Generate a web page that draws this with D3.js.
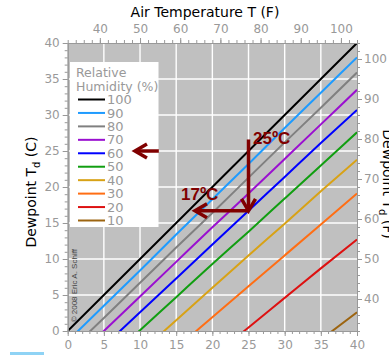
<!DOCTYPE html>
<html>
<head>
<meta charset="utf-8">
<script src="https://cdn.jsdelivr.net/npm/d3@7"></script>
<style>
  body { margin: 0; background: #fff; }
  svg { display: block; }
  .tick text { font-family: "DejaVu Sans", sans-serif; font-size: 12px; fill: #999; }
  .tick line, .domain { stroke: #999; }
</style>
</head>
<body>
<script>
// dewpoint vs air temperature, one curve per relative humidity

var airTempC = [0, 5, 10, 15, 20, 25, 30, 35, 40];
var humidity = [100, 90, 80, 70, 60, 50, 40, 30, 20, 10];
var humidityColors = ["#000000", "#1e9bff", "#808080", "#9a10d0", "#0000ff",
                      "#119e11", "#d8a216", "#ff6e14", "#dd1111", "#9c6410"];

// dewpoint (C) at each air temperature above
var td100 = [0, 5, 10, 15, 20, 25, 30, 35, 40];
var td90 = [-1.4, 3.5, 8.4, 13.4, 18.3, 23.2, 28.2, 33.1, 38.0];
var td80 = [-3.0, 1.8, 6.7, 11.6, 16.4, 21.3, 26.2, 31.0, 35.9];
var td70 = [-4.8, 0.0, 4.8, 9.6, 14.4, 19.1, 23.9, 28.7, 33.5];
var td60 = [-6.8, -2.1, 2.6, 7.3, 12.0, 16.7, 21.4, 26.1, 30.7];
var td50 = [-9.2, -4.6, 0.1, 4.7, 9.3, 13.8, 18.4, 23.0, 27.6];
var td40 = [-12.0, -7.5, -3.0, 1.5, 6.0, 10.5, 14.9, 19.4, 23.8];
var td30 = [-15.5, -11.1, -6.8, -2.4, 1.9, 6.2, 10.5, 14.8, 19.1];
var td20 = [-20.3, -16.1, -11.9, -7.8, -3.7, 0.5, 4.6, 8.7, 12.7];
var td10 = [-28.0, -24.1, -20.2, -16.4, -12.6, -8.7, -5.0, -1.2, 2.6];

var celsiusTicks = [0, 5, 10, 15, 20, 25, 30, 35, 40];
var fahrenheitTicksTop = [40, 50, 60, 70, 80, 90, 100];
var fahrenheitTicksRight = [40, 50, 60, 70, 80, 90, 100];

var width = 389,
    height = 355,
    plotLeft = 67.7, plotRight = 357,
    plotTop = 43, plotBottom = 331;

var svg = d3.select("body").append("svg")
    .attr("width", width)
    .attr("height", height);

var x = d3.scaleLinear().domain([0, 40]).range([plotLeft, plotRight]);
var y = d3.scaleLinear().domain([0, 40]).range([plotBottom, plotTop]);
var xF = d3.scaleLinear().domain([32, 104]).range([plotLeft, plotRight]);
var yF = d3.scaleLinear().domain([32, 104]).range([plotBottom, plotTop]);

svg.append("rect")
    .attr("x", plotLeft).attr("y", plotTop)
    .attr("width", plotRight - plotLeft).attr("height", plotBottom - plotTop)
    .attr("fill", "#c0c0c0");

svg.append("clipPath").attr("id", "plot-clip")
  .append("rect")
    .attr("x", plotLeft).attr("y", plotTop)
    .attr("width", plotRight - plotLeft).attr("height", plotBottom - plotTop);

// grid
var grid = svg.append("g").attr("stroke", "#fff").attr("stroke-width", 1.4);
grid.selectAll(".gx").data(celsiusTicks.slice(1, -1)).enter().append("line")
    .attr("x1", d => x(d)).attr("x2", d => x(d))
    .attr("y1", plotTop).attr("y2", plotBottom);
grid.selectAll(".gy").data(celsiusTicks.slice(1, -1)).enter().append("line")
    .attr("y1", d => y(d)).attr("y2", d => y(d))
    .attr("x1", plotLeft).attr("x2", plotRight);

// curves
var tdSeries = [td100, td90, td80, td70, td60, td50, td40, td30, td20, td10];
var series = humidity.map(function(rh, i) {
  return { rh: rh, color: humidityColors[i],
           points: airTempC.map(function(t, j) { return [t, tdSeries[i][j]]; }) };
});

var line = d3.line()
    .x(d => x(d[0]))
    .y(d => y(d[1]))
    .curve(d3.curveMonotoneX);

svg.append("g").attr("clip-path", "url(#plot-clip)")
  .selectAll("path").data(series.slice().reverse()).enter().append("path")
    .attr("d", d => line(d.points))
    .attr("fill", "none")
    .attr("stroke", d => d.color)
    .attr("stroke-width", 2);

// copyright
svg.append("text")
    .attr("transform", "translate(76.5," + y(1.2) + ") rotate(-90)")
    .attr("font-family", "Liberation Sans, sans-serif")
    .attr("font-size", 8)
    .attr("fill", "#444")
    .text("\u00a9 2008 Eric A. Schiff");

// axes
function axis(g, ax) {
  g.call(ax);
  g.select(".domain").attr("stroke", "#999");
}

svg.append("g").attr("transform", "translate(" + plotLeft + ",0)")
    .call(g => axis(g, d3.axisLeft(y).tickValues(d3.range(0, 41)).tickSize(3).tickSizeOuter(0).tickFormat("")));
svg.append("g").attr("transform", "translate(" + plotLeft + ",0)")
    .call(g => axis(g, d3.axisLeft(y).tickValues(celsiusTicks).tickSize(5).tickSizeOuter(0).tickPadding(3)));

svg.append("g").attr("transform", "translate(0," + plotBottom + ")")
    .call(g => axis(g, d3.axisBottom(x).tickValues(d3.range(0, 41)).tickSize(3).tickSizeOuter(0).tickFormat("")));
svg.append("g").attr("transform", "translate(0," + plotBottom + ")")
    .call(g => axis(g, d3.axisBottom(x).tickValues(celsiusTicks).tickSize(5).tickSizeOuter(0).tickPadding(4)));

svg.append("g").attr("transform", "translate(0," + plotTop + ")")
    .call(g => axis(g, d3.axisTop(xF).tickValues(d3.range(32, 105, 2)).tickSize(3).tickSizeOuter(0).tickFormat("")));
svg.append("g").attr("transform", "translate(0," + plotTop + ")")
    .call(g => axis(g, d3.axisTop(xF).tickValues(fahrenheitTicksTop).tickSize(5).tickSizeOuter(0).tickPadding(5)));

svg.append("g").attr("transform", "translate(" + plotRight + ",0)")
    .call(g => axis(g, d3.axisRight(yF).tickValues(d3.range(32, 105, 2)).tickSize(3).tickSizeOuter(0).tickFormat("")));
svg.append("g").attr("transform", "translate(" + plotRight + ",0)")
    .call(g => axis(g, d3.axisRight(yF).tickValues(fahrenheitTicksRight).tickSize(5).tickSizeOuter(0).tickPadding(2)));

// axis titles
var titleFont = "DejaVu Sans, sans-serif";
svg.append("text")
    .attr("x", 205).attr("y", 17)
    .attr("text-anchor", "middle")
    .attr("font-family", titleFont).attr("font-size", 14)
    .text("Air Temperature T (F)");

function dewTitle(sel, unit) {
  sel.attr("font-family", titleFont).attr("font-size", 14).attr("text-anchor", "middle");
  sel.append("tspan").text("Dewpoint T");
  sel.append("tspan").attr("font-size", 10).attr("dy", 4).text("d");
  sel.append("tspan").attr("dy", -4).text(" (" + unit + ")");
}
svg.append("text")
    .attr("transform", "translate(36,192) rotate(-90)")
    .call(dewTitle, "C");
svg.append("text")
    .attr("transform", "translate(383,184) rotate(90)")
    .call(dewTitle, "F");

svg.append("text")
    .attr("x", 113).attr("y", 366)
    .attr("font-family", titleFont).attr("font-size", 14)
    .attr("fill", "#888")
    .text("Air Temperature T (C)");
svg.append("rect")
    .attr("x", 10).attr("y", 352).attr("width", 34).attr("height", 3)
    .attr("fill", "#8fd3f5");

// legend
var legend = svg.append("g");
legend.append("rect")
    .attr("x", 70).attr("y", 62).attr("width", 88.5).attr("height", 165)
    .attr("fill", "#fff");
legend.append("text").attr("x", 76).attr("y", 77)
    .attr("font-family", titleFont).attr("font-size", 12.5).attr("fill", "#999")
    .text("Relative");
legend.append("text").attr("x", 76).attr("y", 91)
    .attr("font-family", titleFont).attr("font-size", 12.5).attr("fill", "#999")
    .text("Humidity (%)");

var ly = d3.scalePoint().domain(humidity).range([99.5, 220.5]);
var entry = legend.selectAll(".entry").data(series).enter().append("g")
    .attr("transform", d => "translate(0," + ly(d.rh) + ")");
entry.append("line")
    .attr("x1", 78).attr("x2", 105)
    .attr("stroke", d => d.color).attr("stroke-width", 2);
entry.append("text")
    .attr("x", 107).attr("y", 4.6)
    .attr("font-family", titleFont).attr("font-size", 13).attr("fill", "#999")
    .text(d => d.rh);

// worked example: 25C air at 60% -> 17C dewpoint
var arrowColor = "#800000";
var arrows = [
  { from: [12.6, 25], to: [9.3, 25] },
  { from: [25, 26.6], to: [25, 16.7] },
  { from: [25, 16.7], to: [17.6, 16.7] }
];
var ann = svg.append("g")
    .attr("stroke", arrowColor).attr("stroke-width", 3.5).attr("fill", "none");
arrows.forEach(function(a) {
  var x0 = x(a.from[0]), y0 = y(a.from[1]), x1 = x(a.to[0]), y1 = y(a.to[1]);
  var len = Math.hypot(x1 - x0, y1 - y0), ux = (x1 - x0) / len, uy = (y1 - y0) / len;
  var back = 12, half = 7;
  ann.append("line").attr("x1", x0).attr("y1", y0).attr("x2", x1 - ux).attr("y2", y1 - uy);
  ann.append("path")
      .attr("stroke-linejoin", "miter")
      .attr("d", "M" + (x1 - ux * back - uy * half) + "," + (y1 - uy * back + ux * half) +
                 "L" + x1 + "," + y1 +
                 "L" + (x1 - ux * back + uy * half) + "," + (y1 - uy * back - ux * half));
});

svg.append("text")
    .attr("x", 253).attr("y", 144)
    .attr("font-family", "Liberation Sans, Arial, sans-serif").attr("font-weight", "bold")
    .attr("font-size", 17).attr("fill", arrowColor)
    .text("25\u00baC");
svg.append("text")
    .attr("x", 181).attr("y", 200)
    .attr("font-family", "Liberation Sans, Arial, sans-serif").attr("font-weight", "bold")
    .attr("font-size", 17).attr("fill", arrowColor)
    .text("17\u00baC");
</script>
</body>
</html>
